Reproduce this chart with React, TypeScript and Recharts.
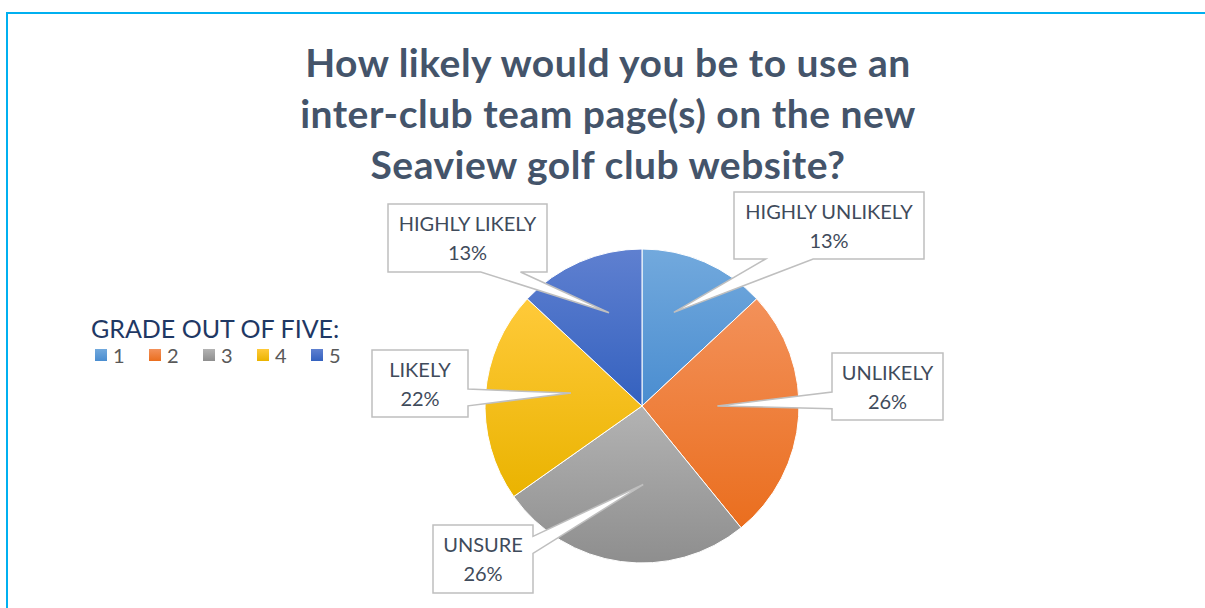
import React from "react";
import { Cell, Legend, Pie, PieChart } from "recharts";

const categories = ["HIGHLY UNLIKELY", "UNLIKELY", "UNSURE", "LIKELY", "HIGHLY LIKELY"];
const grades = ["1", "2", "3", "4", "5"];
const responses = [3, 6, 6, 5, 3];

const titleLines = [
  "How likely would you be to use an",
  "inter-club team page(s) on the new",
  "Seaview golf club website?",
];
const legendTitle = "GRADE OUT OF FIVE:";

// gradient top / bottom per slice
const gradTop = ["#72A9DD", "#F3915A", "#B3B3B3", "#FFCA3A", "#5F80D0"];
const gradBottom = ["#4A8DD0", "#EA6E1E", "#8E8E8E", "#EAB300", "#3461BF"];

// callout boxes, offsets from pie centre, and where the pointer lands
const callouts = [
  { dx: 187, dy: -180.5, w: 190, h: 67, tipR: 0.63, shift: -4.7 },
  { dx: 245.5, dy: -19.5, w: 111, h: 67, tipR: 0.48, shift: -4 },
  { dx: -159, dy: 153, w: 100, h: 68, tipR: 0.5, shift: -8.7 },
  { dx: -222, dy: -22.5, w: 96, h: 67, tipR: 0.46, shift: 6.4 },
  { dx: -174.5, dy: -168, w: 159, h: 68, tipR: 0.63, shift: 4 },
];

const data = categories.map((name, i) => ({ name, grade: grades[i], value: responses[i] }));

const RAD = Math.PI / 180;
const FONT = "Lato, 'Open Sans', sans-serif";

function calloutPath(x0: number, y0: number, w: number, h: number, tx: number, ty: number) {
  const x1 = x0 + w;
  const y1 = y0 + h;
  const dx = tx - (x0 + w / 2);
  const dy = ty - (y0 + h / 2);
  let pts: number[][];
  if (Math.abs(dy) * w > Math.abs(dx) * h) {
    const a = dx > 0 ? x0 + (w * 7) / 12 : x0 + w / 6;
    const b = dx > 0 ? x0 + (w * 5) / 6 : x0 + (w * 5) / 12;
    pts =
      dy < 0
        ? [[x0, y0], [a, y0], [tx, ty], [b, y0], [x1, y0], [x1, y1], [x0, y1]]
        : [[x0, y0], [x1, y0], [x1, y1], [b, y1], [tx, ty], [a, y1], [x0, y1]];
  } else {
    const a = dy > 0 ? y0 + (h * 7) / 12 : y0 + h / 6;
    const b = dy > 0 ? y0 + (h * 5) / 6 : y0 + (h * 5) / 12;
    pts =
      dx < 0
        ? [[x0, y0], [x1, y0], [x1, y1], [x0, y1], [x0, b], [tx, ty], [x0, a]]
        : [[x0, y0], [x1, y0], [x1, a], [tx, ty], [x1, b], [x1, y1], [x0, y1]];
  }
  return "M" + pts.map((p) => `${p[0]},${p[1]}`).join("L") + "Z";
}

function renderCallout(props: any) {
  const { cx, cy, midAngle, outerRadius, percent, index, name } = props;
  const c = callouts[index];
  const ang = (midAngle - c.shift) * RAD;
  const tx = cx + outerRadius * c.tipR * Math.cos(ang);
  const ty = cy - outerRadius * c.tipR * Math.sin(ang);
  const x0 = cx + c.dx - c.w / 2;
  const y0 = cy + c.dy - c.h / 2;
  const mid = x0 + c.w / 2;
  return (
    <g key={`callout-${index}`}>
      <path d={calloutPath(x0, y0, c.w, c.h, tx, ty)} fill="#fff" stroke="#BFBFBF" strokeWidth={1.5} />
      <text x={mid} y={y0 + 27} textAnchor="middle" fontFamily={FONT} fontSize={20} fill="#3F4B5B">
        {name}
      </text>
      <text x={mid} y={y0 + 56} textAnchor="middle" fontFamily={FONT} fontSize={20} fill="#3F4B5B">
        {`${Math.round(percent * 100)}%`}
      </text>
    </g>
  );
}

function LegendBox() {
  return (
    <div style={{ fontFamily: FONT }}>
      <div style={{ fontSize: 25, color: "#1F3864", lineHeight: "30px", whiteSpace: "nowrap" }}>{legendTitle}</div>
      <div style={{ display: "flex", marginTop: 0, marginLeft: 4 }}>
        {data.map((d, i) => (
          <div key={d.grade} style={{ display: "flex", alignItems: "center", width: 54 }}>
            <span
              style={{
                display: "inline-block",
                width: 12,
                height: 12,
                background: `linear-gradient(${gradTop[i]}, ${gradBottom[i]})`,
                marginRight: 6,
              }}
            />
            <span style={{ fontSize: 20, color: "#595959", lineHeight: "24px" }}>{d.grade}</span>
          </div>
        ))}
      </div>
    </div>
  );
}

export default function App() {
  return (
    <div
      style={{
        position: "fixed",
        left: 0,
        top: 0,
        width: 1205,
        height: 608,
        overflow: "hidden",
        background: "#fff",
      }}
    >
      <div
        style={{
          position: "absolute",
          left: 6,
          top: 12,
          width: 1220,
          height: 620,
          border: "2px solid #00B0F0",
        }}
      />
      <div
        style={{
          position: "absolute",
          left: 0,
          top: 37,
          width: 1216,
          textAlign: "center",
          fontFamily: FONT,
          fontWeight: 700,
          fontSize: 39,
          letterSpacing: 0.5,
          lineHeight: "51px",
          color: "#44546A",
        }}
      >
        {titleLines.map((t) => (
          <div key={t}>{t}</div>
        ))}
      </div>
      <div style={{ position: "absolute", left: 0, top: 0 }}>
        <PieChart width={1205} height={608} margin={{ top: 0, right: 0, bottom: 0, left: 0 }}>
          <defs>
            {gradTop.map((c, i) => (
              <linearGradient key={i} id={`slice${i}`} x1="0" y1="0" x2="0" y2="1">
                <stop offset="0%" stopColor={c} />
                <stop offset="100%" stopColor={gradBottom[i]} />
              </linearGradient>
            ))}
          </defs>
          <Pie
            data={data}
            dataKey="value"
            nameKey="name"
            cx={642}
            cy={406}
            outerRadius={157}
            startAngle={90}
            endAngle={-270}
            stroke="#fff"
            strokeWidth={1}
            label={renderCallout}
            labelLine={false}
            isAnimationActive={false}
          >
            {data.map((d, i) => (
              <Cell key={d.name} fill={`url(#slice${i})`} />
            ))}
          </Pie>
          <Legend
            content={() => <LegendBox />}
            wrapperStyle={{ position: "absolute", left: 91, top: 313, width: 300 }}
          />
        </PieChart>
      </div>
    </div>
  );
}
